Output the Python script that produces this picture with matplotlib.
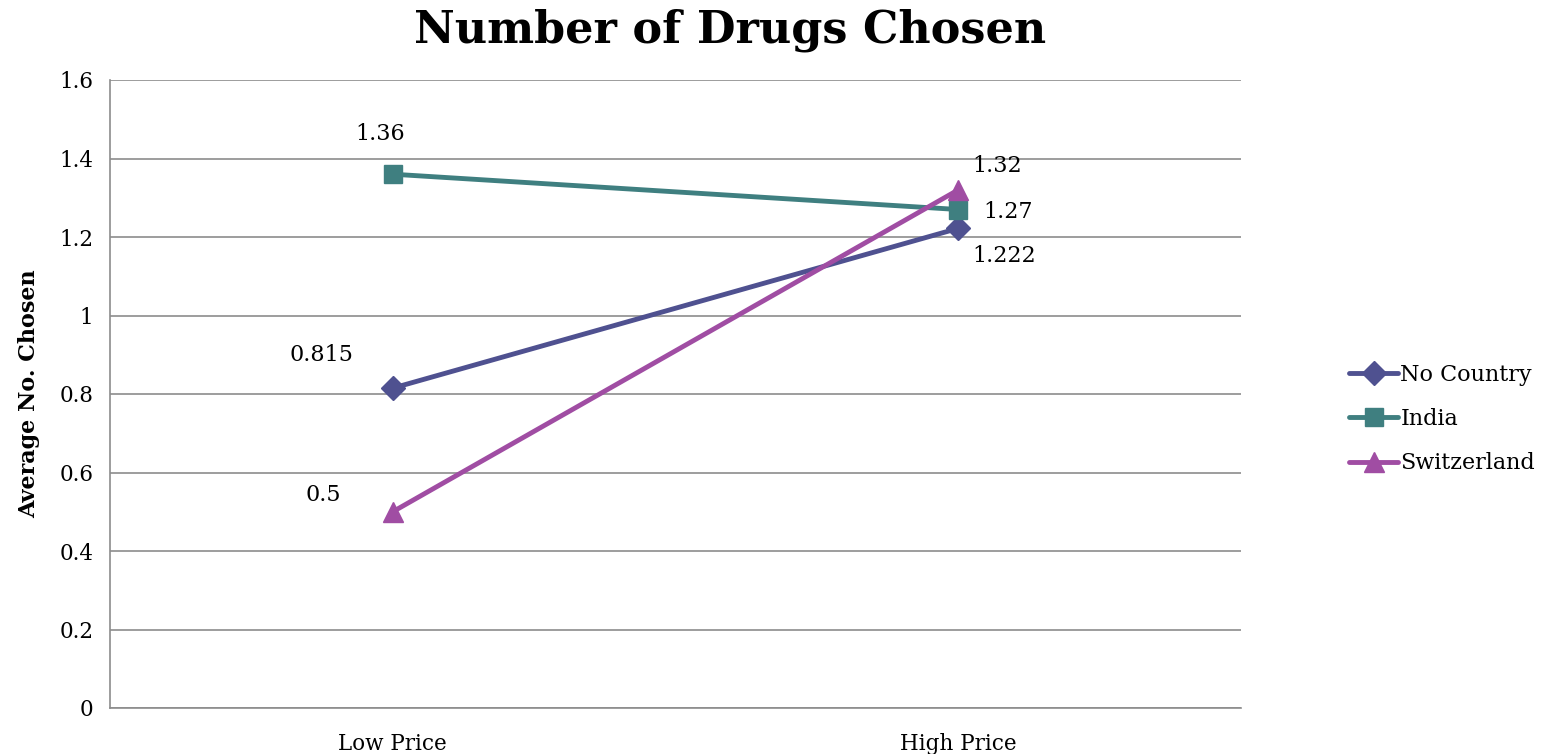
import matplotlib
matplotlib.use('Agg')
import matplotlib.pyplot as plt

# data
categories = ['Low Price', 'High Price']
no_country = [0.815, 1.222]
india = [1.36, 1.27]
switzerland = [0.5, 1.32]
series_names = ['No Country', 'India', 'Switzerland']

plt.rcParams['font.family'] = ['DejaVu Serif']

fig = plt.figure(figsize=(15.52, 7.54), dpi=100)
ax = fig.add_axes([110 / 1552, 1 - 708 / 754, 1131 / 1552, 628 / 754])

x = list(range(len(categories)))
styles = [
    (no_country, '#4F5190', 'D', 12),
    (india, '#3F7F80', 's', 13),
    (switzerland, '#A04DA3', '^', 14),
]
for (vals, color, marker, ms), name in zip(styles, series_names):
    ax.plot(x, vals, color=color, linewidth=3.5, marker=marker,
            markersize=ms, label=name, solid_capstyle='round')

# value labels (offsets in points)
offsets = {
    'No Country': [(-51, 24), (33, -20)],
    'India': [(-9, 29), (36, -2)],
    'Switzerland': [(-50, 12), (28, 17)],
}
for vals, name in zip([no_country, india, switzerland], series_names):
    for xi, v, off in zip(x, vals, offsets[name]):
        ax.annotate(f'{v:g}', (xi, v), xytext=off, textcoords='offset points',
                    ha='center', va='center', fontsize=16)

ax.set_xlim(-0.5, 1.5)
ax.set_ylim(0, 1.6)
ax.set_yticks([0, 0.2, 0.4, 0.6, 0.8, 1.0, 1.2, 1.4, 1.6])
ax.set_yticklabels(['0', '0.2', '0.4', '0.6', '0.8', '1', '1.2', '1.4', '1.6'])
ax.set_xticks(x)
ax.set_xticklabels(categories)
ax.tick_params(axis='both', length=0, labelsize=15.5, pad=12)
ax.tick_params(axis='x', pad=18)

ax.yaxis.grid(True, color='#8c8c8c', linewidth=1.2)
ax.set_axisbelow(True)
for side in ['top', 'right']:
    ax.spines[side].set_visible(False)
for side in ['left', 'bottom']:
    ax.spines[side].set_color('#8c8c8c')
    ax.spines[side].set_linewidth(1.2)

ax.set_ylabel('Average No. Chosen', fontsize=16, fontweight='bold', labelpad=14)
fig.text(730 / 1552, 1 - 30 / 754, 'Number of Drugs Chosen', fontsize=32,
         fontweight='bold', ha='center', va='center')

ax.legend(loc='center left', bbox_to_anchor=(1.078, 0.46), frameon=False,
          fontsize=16, handlelength=2.2, handletextpad=0.1, labelspacing=1.0)

plt.savefig('out.png', dpi=100)
plt.close()
